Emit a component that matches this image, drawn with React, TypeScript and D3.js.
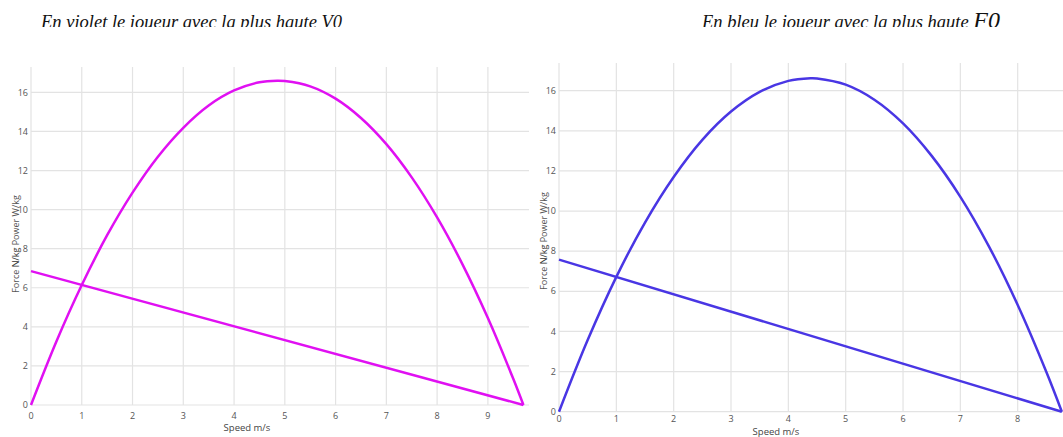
import React from 'react'
import * as d3 from 'd3'

// ticks
const speedTicksLeft = [0, 1, 2, 3, 4, 5, 6, 7, 8, 9]
const speedTicksRight = [0, 1, 2, 3, 4, 5, 6, 7, 8]
const yTicks = [0, 2, 4, 6, 8, 10, 12, 14, 16]

// violet player (highest V0)
const violetSpeed = [0, 0.5, 1, 1.5, 2, 2.5, 3, 3.5, 4, 4.5, 4.85, 5, 5.5, 6, 6.5, 7, 7.5, 8, 8.5, 9, 9.5, 9.7]
const violetPower = [0, 3.25, 6.14, 8.69, 10.87, 12.71, 14.19, 15.33, 16.1, 16.52, 16.6, 16.58, 16.31, 15.68, 14.69, 13.35, 11.65, 9.6, 7.2, 4.45, 1.34, 0]
const violetForceSpeed = [0, 9.7]
const violetForce = [6.85, 0]

// blue player (highest F0)
const blueSpeed = [0, 0.5, 1, 1.5, 2, 2.5, 3, 3.5, 4, 4.385, 4.5, 5, 5.5, 6, 6.5, 7, 7.5, 8, 8.5, 8.77]
const bluePower = [0, 3.57, 6.72, 9.43, 11.7, 13.55, 14.96, 15.94, 16.49, 16.62, 16.61, 16.3, 15.55, 14.37, 12.75, 10.71, 8.23, 5.32, 1.98, 0]
const blueForceSpeed = [0, 8.77]
const blueForce = [7.58, 0]

const tickFont = '"Open Sans", "Noto Sans", sans-serif'

function Panel({ x0, x1, xMax, y0, y1, yMax, xTicks, speed, power, forceSpeed, force, color, yLabelX, yLabelY, xLabelX, xLabelY, xTickY }) {
  const x = d3.scaleLinear().domain([0, xMax]).range([x0, x1])
  const y = d3.scaleLinear().domain([0, yMax]).range([y0, y1])
  const powerLine = d3.line<number>()
    .x(d => x(d))
    .y((d, i) => y(power[i]))
    .curve(d3.curveCatmullRom)
  const forceLine = d3.line<number>()
    .x(d => x(d))
    .y((d, i) => y(force[i]))

  return (
    <g>
      {xTicks.map(t => (
        <line key={'vx' + t} x1={x(t)} x2={x(t)} y1={y(yMax)} y2={y0} stroke="#e3e3e3" strokeWidth={1.2} />
      ))}
      {yTicks.map(t => (
        <line key={'hy' + t} x1={x0} x2={x1} y1={y(t)} y2={y(t)} stroke="#e3e3e3" strokeWidth={1.2} />
      ))}
      {xTicks.map(t => (
        <text key={'tx' + t} x={x(t)} y={xTickY} textAnchor="middle" fontSize={9} fill="#555" fontFamily={tickFont}>{t}</text>
      ))}
      {yTicks.map(t => (
        <text key={'ty' + t} x={x0 - 3} y={y(t)} dy="0.35em" textAnchor="end" fontSize={9} fill="#555" fontFamily={tickFont}>{t}</text>
      ))}
      <text transform={`translate(${yLabelX},${yLabelY}) rotate(-90)`} textAnchor="middle" dy="0.35em" fontSize={9} fill="#555" fontFamily={tickFont}>
        Force <tspan fill="#333">N/kg</tspan> Power W/kg
      </text>
      <text x={xLabelX} y={xLabelY} textAnchor="middle" fontSize={9.5} fill="#444" fontFamily={tickFont}>Speed m/s</text>
      <path d={forceLine(forceSpeed) || ''} fill="none" stroke={color} strokeWidth={2.5} />
      <path d={powerLine(speed) || ''} fill="none" stroke={color} strokeWidth={2.5} strokeLinejoin="round" />
    </g>
  )
}

export default function App() {
  return (
    <svg width={1063} height={437} style={{ position: 'absolute', left: 0, top: 0, background: '#fff' }}>
      <defs>
        <clipPath id="titleClip">
          <rect x={0} y={0} width={1063} height={27} />
        </clipPath>
      </defs>
      <g clipPath="url(#titleClip)" fontFamily='"Liberation Serif", "Times New Roman", serif' fontStyle="italic" fill="#111">
        <text x={41} y={28} fontSize={18.5}>En violet le joueur avec la plus haute V0</text>
        <text x={702} y={28} fontSize={18.5}>En bleu le joueur avec la plus haute <tspan fontSize={24}>F0</tspan></text>
      </g>
      <Panel
        x0={31} x1={529} xMax={9.81}
        y0={405} y1={67} yMax={17.3}
        xTicks={speedTicksLeft}
        speed={violetSpeed} power={violetPower}
        forceSpeed={violetForceSpeed} force={violetForce}
        color="#e010f2"
        yLabelX={15.5} yLabelY={244}
        xLabelX={247} xLabelY={431}
        xTickY={419}
      />
      <Panel
        x0={559} x1={1063} xMax={8.79}
        y0={411.7} y1={63} yMax={17.38}
        xTicks={speedTicksRight}
        speed={blueSpeed} power={bluePower}
        forceSpeed={blueForceSpeed} force={blueForce}
        color="#4936e4"
        yLabelX={544} yLabelY={241}
        xLabelX={776} xLabelY={435}
        xTickY={422}
      />
    </svg>
  )
}
